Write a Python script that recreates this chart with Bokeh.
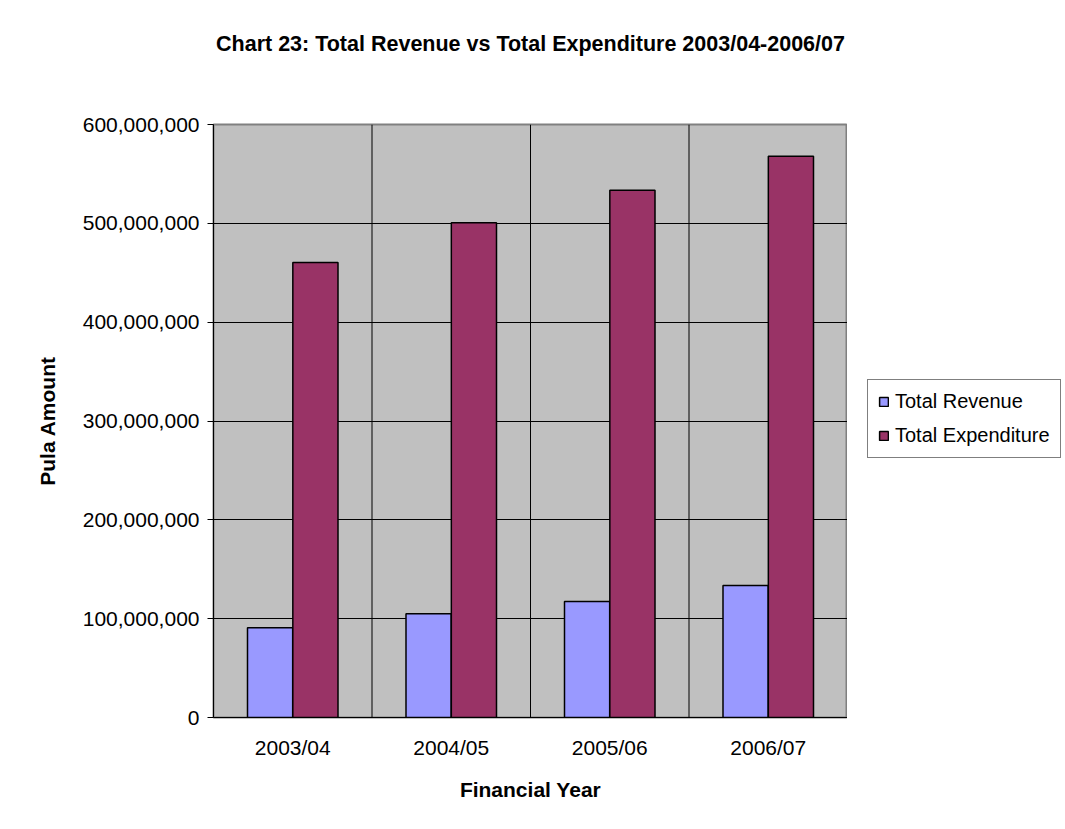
from bokeh.plotting import figure
from bokeh.layouts import row
from bokeh.models import (ColumnDataSource, FactorRange, Legend, LegendItem, NumeralTickFormatter,
                          Range1d, FixedTicker, Span, Title)
from bokeh.transform import dodge
from bokeh.embed import file_html
from bokeh.resources import INLINE

years = ["2003/04", "2004/05", "2005/06", "2006/07"]
revenue = [90_700_000, 104_900_000, 117_300_000, 133_500_000]
expenditure = [460_400_000, 500_500_000, 533_600_000, 568_000_000]
series_names = ["Total Revenue", "Total Expenditure"]
y_ticks = [0, 100_000_000, 200_000_000, 300_000_000, 400_000_000, 500_000_000, 600_000_000]
title_text = "Chart 23: Total Revenue vs Total Expenditure 2003/04-2006/07"

FONT = "Liberation Sans"
REV_COLOR = "#9999ff"
EXP_COLOR = "#993366"

src = ColumnDataSource(dict(years=years, revenue=revenue, expenditure=expenditure))

p = figure(x_range=FactorRange(*years, range_padding=0), y_range=Range1d(0, 600_000_000),
           frame_width=634, frame_height=593, output_backend="svg", toolbar_location=None,
           min_border_left=213, min_border_top=124, min_border_bottom=108, min_border_right=0)
p.background_fill_color = "#c0c0c0"
p.border_fill_color = "white"
p.outline_line_color = "#808080"
p.outline_line_width = 2

# title stacked above a blank spacer so it sits high above the frame
spacer = Title(text=" ", text_font_size="10px", standoff=56)
p.add_layout(spacer, "above")
p.add_layout(Title(text=title_text, text_font=FONT, text_font_size="21.5px", text_font_style="bold",
                   text_color="black", align="center", standoff=0), "above")

r1 = p.vbar(x=dodge("years", -0.143, range=p.x_range), top="revenue", width=0.285, source=src,
            fill_color=REV_COLOR, line_color="black", line_width=1.5)
r2 = p.vbar(x=dodge("years", 0.143, range=p.x_range), top="expenditure", width=0.285, source=src,
            fill_color=EXP_COLOR, line_color="black", line_width=1.5)

p.xgrid.grid_line_color = None
p.ygrid.grid_line_color = "black"
p.ygrid.grid_line_alpha = 1
p.ygrid.grid_line_width = 1
p.yaxis.ticker = FixedTicker(ticks=y_ticks)
p.yaxis.formatter = NumeralTickFormatter(format="0,0")
p.yaxis.minor_tick_line_color = None
p.yaxis.major_tick_in = 0
p.yaxis.major_tick_out = 6
p.yaxis.major_tick_line_color = "black"
p.xaxis.major_tick_line_color = None
p.xaxis.major_tick_out = 0
p.xaxis.major_tick_in = 0
for ax in (p.xaxis[0], p.yaxis[0]):
    ax.major_label_text_font = FONT
    ax.major_label_text_font_size = "21px"
    ax.major_label_text_color = "black"
    ax.axis_line_color = "black"
    ax.axis_line_width = 1
    ax.axis_label_text_font = FONT
    ax.axis_label_text_font_size = "21px"
    ax.axis_label_text_font_style = "bold"
    ax.axis_label_text_color = "black"
p.xaxis.major_label_standoff = 18
p.yaxis.major_label_standoff = 8
p.xaxis.axis_label = "Financial Year"
p.yaxis.axis_label = "Pula Amount"
p.xaxis.axis_label_standoff = 16
p.yaxis.axis_label_standoff = 21

for i in range(1, len(years)):
    p.add_layout(Span(location=i, dimension="height", line_color="black", line_width=1))

# legend panel to the right of the chart
lg = figure(width=214, height=p.min_border_top + 593 + p.min_border_bottom,
            output_backend="svg", toolbar_location=None,
            x_range=Range1d(0, 1), y_range=Range1d(0, 1),
            min_border_left=0, min_border_right=0, min_border_top=0, min_border_bottom=0)
lg.axis.visible = False
lg.grid.visible = False
lg.outline_line_color = None
lg.background_fill_color = "white"
nan = float("nan")
placeholder = ColumnDataSource(dict(x=[nan], top=[nan]))
l1 = lg.vbar(x="x", top="top", width=0.1, source=placeholder, fill_color=REV_COLOR, line_color="black", line_width=1.5)
l2 = lg.vbar(x="x", top="top", width=0.1, source=placeholder, fill_color=EXP_COLOR, line_color="black", line_width=1.5)

legend = Legend(items=[LegendItem(label=series_names[0], renderers=[l1]),
                       LegendItem(label=series_names[1], renderers=[l2])],
                location=(20, 259), label_text_font=FONT,
                label_text_font_size="20px", label_text_color="black",
                glyph_width=11, glyph_height=11, spacing=11, padding=10, margin=0,
                border_line_color="black", border_line_width=1, label_standoff=6)
lg.add_layout(legend, "center")

layout = row(p, lg, spacing=0)
open("out.html", "w").write(file_html(layout, INLINE))
